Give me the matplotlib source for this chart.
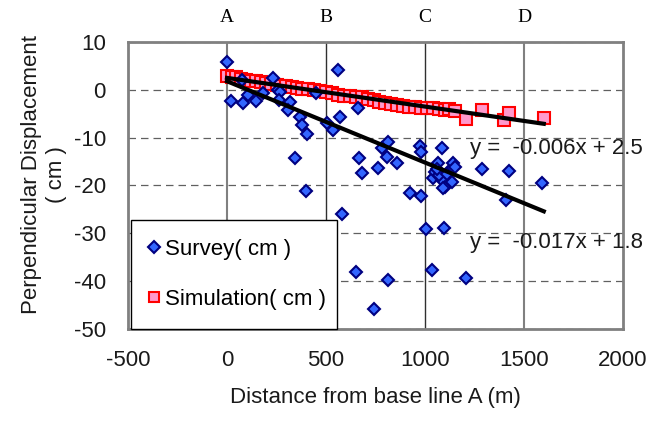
import matplotlib
matplotlib.use("Agg")
import matplotlib.pyplot as plt
import numpy as np

plt.rcParams['font.family'] = ['Liberation Sans', 'DejaVu Sans']

# ---- data ----
survey_x = [0, 20, 74, 82, 108, 145, 184, 231, 259, 268, 262, 318, 310, 369, 377, 402,
            343, 397, 450, 562, 503, 537, 571, 583, 663, 667, 680, 761, 781, 806, 815,
            860, 924, 975, 978, 978, 1003, 1042, 1050, 1067, 1084, 1087, 1097, 1101,
            1126, 1135, 1143, 1070, 1110, 1092, 1150, 1060, 1290, 1407, 1424, 1593,
            650, 744, 815, 1037, 1205]
survey_y = [5.8, -2.3, 2.1, -2.8, -1.1, -2.4, -0.6, 2.4, -0.1, -0.5, -2.1, -2.5, -4.2, -5.6, -7.4, -9.2,
            -14.2, -21.1, -0.6, 4.1, -7.0, -8.4, -5.6, -26.0, -3.7, -14.3, -17.3, -16.4, -12.2, -14.0, -10.9,
            -15.2, -21.5, -11.8, -13.1, -22.2, -29.0, -18.5, -17.1, -15.4, -18.9, -12.2, -28.8, -20.3,
            -16.8, -19.2, -15.4, -17.8, -17.5, -20.6, -16.2, -16.5, -16.6, -23.1, -16.9, -19.4,
            -38.0, -45.9, -39.8, -37.6, -39.3]

sim_x = [0, 25, 45, 70, 95, 120, 145, 170, 195, 220, 250, 275, 300, 330, 355, 380, 410, 440,
         470, 500, 530, 560, 590, 620, 650, 680, 710, 740, 770, 800, 830, 860, 890, 920, 950,
         980, 1010, 1040, 1070, 1100, 1120, 1150, 1205, 1290, 1400, 1425, 1600]
sim_y = [2.9, 2.7, 2.6, 2.3, 2.1, 1.9, 1.8, 1.6, 1.4, 1.3, 1.1, 0.9, 0.8, 0.5, 0.4, 0.2, 0.1, -0.1,
         -0.2, -0.4, -0.7, -1.0, -1.2, -1.3, -1.4, -1.6, -1.9, -2.2, -2.6, -2.8, -3.0, -3.2, -3.3, -3.5, -3.6,
         -3.8, -3.9, -3.9, -4.0, -4.2, -4.1, -4.4, -6.0, -4.2, -6.3, -4.9, -5.8]

sim_fit = (-0.006, 2.5)
survey_fit = (-0.017, 1.8)
fit_x_range = [0, 1600]

section_labels = ['A', 'B', 'C', 'D']
section_x = [0, 500, 1000, 1500]

x_ticks = [-500, 0, 500, 1000, 1500, 2000]
y_ticks = [10, 0, -10, -20, -30, -40, -50]

FS = 16

# ---- figure ----
fig = plt.figure(figsize=(6.57, 4.21), dpi=100)
ax = fig.add_axes([128/657, 1 - 329/421, 495/657, 287/421])

ax.set_xlim(-500, 2000)
ax.set_ylim(-50, 10)
ax.set_xticks(x_ticks)
ax.set_yticks(y_ticks)
ax.set_xticklabels([str(v) for v in x_ticks])
ax.set_yticklabels([str(v) for v in y_ticks])
ax.tick_params(length=0, labelsize=FS, colors='#1a1a1a')
ax.tick_params(axis='y', pad=16)
ax.tick_params(axis='x', pad=15)

for s in ax.spines.values():
    s.set_color('#808080')
    s.set_linewidth(2)

# horizontal dashed grid
ax.yaxis.grid(True, linestyle=(0, (6, 4)), color='#606060', linewidth=0.9)
ax.set_axisbelow(True)
# section vertical lines
for i, xv in enumerate(section_x):
    col = '#808080' if i in (0, 3) else '#303030'
    lw = 1.5 if i in (0, 3) else 1.0
    ax.axvline(xv, color=col, linewidth=lw, zorder=1)

sim_h, = ax.plot(sim_x, sim_y, linestyle='none', marker='s', markersize=8,
                 markerfacecolor='#FF99CC', markeredgecolor='#FF0000', markeredgewidth=1.5,
                 label='Simulation( cm )', zorder=3)
sur_h, = ax.plot(survey_x, survey_y, linestyle='none', marker='D', markersize=6.5,
                 markerfacecolor='#3366FF', markeredgecolor='#000080', markeredgewidth=1.5,
                 label='Survey( cm )', zorder=4)

fx = np.array(fit_x_range, dtype=float)
ax.plot(fx, np.polyval(sim_fit, fx), color='black', linewidth=3, zorder=5)
ax.plot(fx, np.polyval(survey_fit, fx), color='black', linewidth=3, zorder=5)

ax.text(1225, -12.2, 'y =  -0.006x + 2.5', fontsize=FS, color='#1a1a1a',
        va='center', ha='left', zorder=6, clip_on=False)
ax.text(1225, -32.0, 'y =  -0.017x + 1.8', fontsize=FS, color='#1a1a1a',
        va='center', ha='left', zorder=6, clip_on=False)

trans = matplotlib.transforms.blended_transform_factory(ax.transData, ax.transAxes)
for lab, xv in zip(section_labels, section_x):
    ax.text(xv, 1.0 + 24/287, lab, transform=trans, ha='center', va='center',
            fontsize=14, family='Liberation Serif', color='black')

ax.set_xlabel('Distance from base line A (m)', fontsize=FS, color='#1a1a1a', labelpad=12)
ax.set_ylabel('Perpendicular Displacement\n( cm )', fontsize=FS, color='#1a1a1a',
              linespacing=1.25)
ax.yaxis.set_label_coords(-0.123, 0.537)

leg = ax.legend(handles=[sur_h, sim_h], loc='lower left',
                bbox_to_anchor=(0.006, 0.0, 0.416, 0.373), mode='expand',
                fontsize=FS, frameon=True, fancybox=False, edgecolor='black',
                framealpha=1, borderpad=0.85, labelspacing=1.32,
                handlelength=0.4, handletextpad=0.3, borderaxespad=0, markerscale=0.9)
leg.get_frame().set_linewidth(1.0)
leg.set_zorder(10)

fig.savefig('out.png', dpi=100)
